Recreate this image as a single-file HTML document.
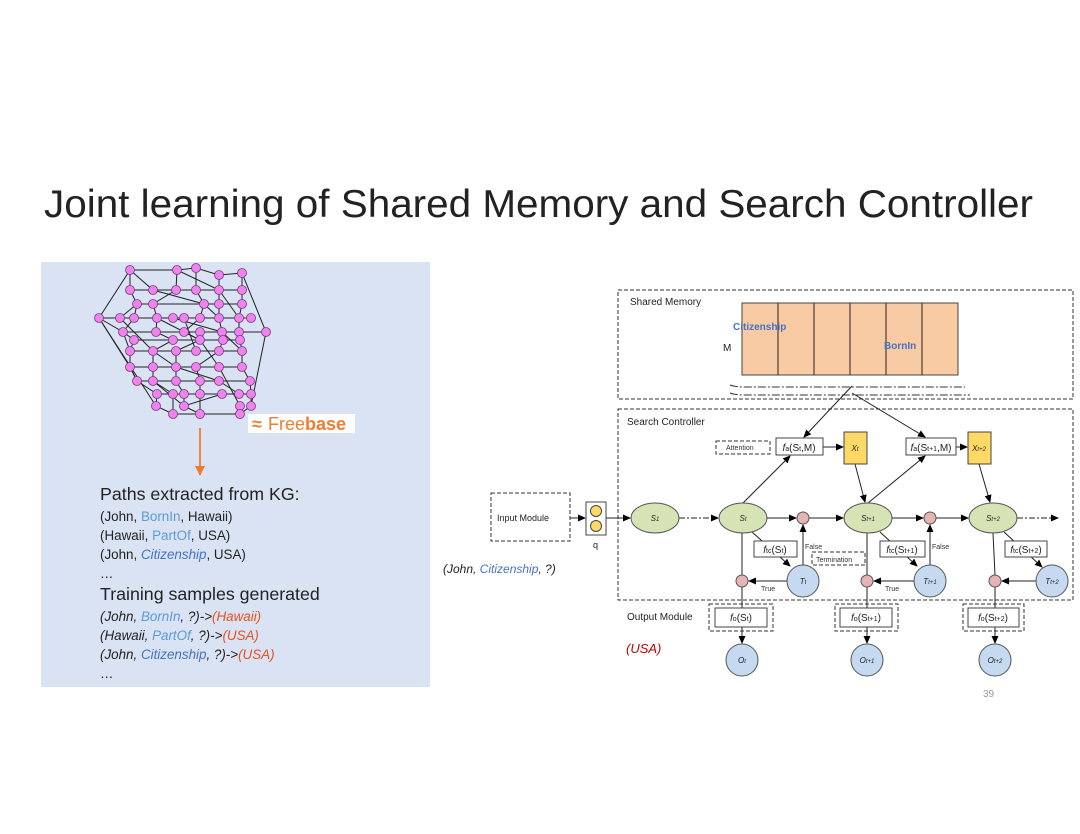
<!DOCTYPE html>
<html><head><meta charset="utf-8"><style>
html,body{margin:0;padding:0;background:#fff}
svg{display:block}
text{font-family:"Liberation Sans",sans-serif}
</style></head><body>
<svg width="1080" height="834" viewBox="0 0 1080 834" xmlns="http://www.w3.org/2000/svg">
<defs>
<marker id="ah" markerWidth="8" markerHeight="8" refX="7" refY="4" orient="auto" markerUnits="userSpaceOnUse"><path d="M0,0.5 L8,4 L0,7.5z" fill="#000"/></marker>
<marker id="ao" markerWidth="10" markerHeight="10" refX="9" refY="5" orient="auto" markerUnits="userSpaceOnUse"><path d="M0,0 L10,5 L0,10z" fill="#ed7d31"/></marker>
</defs>
<text x="44" y="217" font-size="39" fill="#222" textLength="989" lengthAdjust="spacingAndGlyphs">Joint learning of Shared Memory and Search Controller</text>

<!-- left panel -->
<rect x="41" y="262" width="389" height="425" fill="#dae3f3"/>
<g stroke="#222" stroke-width="1" fill="none">
<polygon points="130,270 177,270 196,268 219,275 242,273 266,332 251,406 240,414 200,414 173,414 156,406 99,318"/>
<polyline points="130,290 153,290 176,290 196,290 219,290 242,290"/>
<polyline points="137,304 153,304 204,304 219,304 242,304"/>
<polyline points="99,318 120,318 134,318 157,318 173,318 184,318 200,318 219,318 239,318 251,318"/>
<polyline points="123,332 156,332 184,332 200,332 222,332 239,332 266,332"/>
<polyline points="134,340 173,340 200,340 223,340 240,340"/>
<polyline points="130,351 153,351 176,351 196,351 219,351 242,351"/>
<polyline points="130,367 153,367 176,367 196,367 219,367 242,367"/>
<polyline points="137,381 153,381 176,381 200,381 219,381 250,381"/>
<polyline points="157,394 173,394 184,394 200,394 222,394 239,394 251,394"/>
<polyline points="130,270 130,290 137,304 134,318 123,332 134,340 130,351 130,367 137,381 157,394 156,406"/>
<polyline points="177,270 176,290 153,304 157,318 156,332 173,340 153,351 153,367 153,381 173,394 173,414"/>
<polyline points="196,268 196,290 204,304 200,318 184,332 200,340 176,351 176,367 176,381 184,394 184,406 200,414"/>
<polyline points="219,275 219,290 219,304 219,318 222,332 223,340 219,351 196,367 200,381 200,394 200,414"/>
<polyline points="242,273 242,290 242,304 239,318 239,332 240,340 242,351 242,367 250,381 251,394 251,406"/>
<polyline points="99,318 123,332 130,351"/>
<polyline points="99,318 130,367 137,381"/>
<polyline points="130,270 153,290 204,304 219,318"/>
<polyline points="177,270 219,290 239,318"/>
<polyline points="120,318 153,351 176,367 219,381 239,394"/>
<polyline points="157,318 200,340 219,367 240,406"/>
<polyline points="173,318 222,332 242,351"/>
<polyline points="184,318 196,351"/>
<polyline points="137,304 120,318"/>
<polyline points="153,381 184,406 222,394"/>
</g>
<g fill="#ee82ee" stroke="#7a3a7a" stroke-width="0.8">
<circle cx="130" cy="270" r="4.5"/><circle cx="177" cy="270" r="4.5"/><circle cx="196" cy="268" r="4.5"/><circle cx="219" cy="275" r="4.5"/><circle cx="242" cy="273" r="4.5"/>
<circle cx="130" cy="290" r="4.5"/><circle cx="153" cy="290" r="4.5"/><circle cx="176" cy="290" r="4.5"/><circle cx="196" cy="290" r="4.5"/><circle cx="219" cy="290" r="4.5"/><circle cx="242" cy="290" r="4.5"/>
<circle cx="137" cy="304" r="4.5"/><circle cx="153" cy="304" r="4.5"/><circle cx="204" cy="304" r="4.5"/><circle cx="219" cy="304" r="4.5"/><circle cx="242" cy="304" r="4.5"/>
<circle cx="99" cy="318" r="4.5"/><circle cx="120" cy="318" r="4.5"/><circle cx="134" cy="318" r="4.5"/><circle cx="157" cy="318" r="4.5"/><circle cx="173" cy="318" r="4.5"/><circle cx="184" cy="318" r="4.5"/><circle cx="200" cy="318" r="4.5"/><circle cx="219" cy="318" r="4.5"/><circle cx="239" cy="318" r="4.5"/><circle cx="251" cy="318" r="4.5"/>
<circle cx="123" cy="332" r="4.5"/><circle cx="156" cy="332" r="4.5"/><circle cx="184" cy="332" r="4.5"/><circle cx="200" cy="332" r="4.5"/><circle cx="222" cy="332" r="4.5"/><circle cx="239" cy="332" r="4.5"/><circle cx="266" cy="332" r="4.5"/>
<circle cx="134" cy="340" r="4.5"/><circle cx="173" cy="340" r="4.5"/><circle cx="200" cy="340" r="4.5"/><circle cx="223" cy="340" r="4.5"/><circle cx="240" cy="340" r="4.5"/>
<circle cx="130" cy="351" r="4.5"/><circle cx="153" cy="351" r="4.5"/><circle cx="176" cy="351" r="4.5"/><circle cx="196" cy="351" r="4.5"/><circle cx="219" cy="351" r="4.5"/><circle cx="242" cy="351" r="4.5"/>
<circle cx="130" cy="367" r="4.5"/><circle cx="153" cy="367" r="4.5"/><circle cx="176" cy="367" r="4.5"/><circle cx="196" cy="367" r="4.5"/><circle cx="219" cy="367" r="4.5"/><circle cx="242" cy="367" r="4.5"/>
<circle cx="137" cy="381" r="4.5"/><circle cx="153" cy="381" r="4.5"/><circle cx="176" cy="381" r="4.5"/><circle cx="200" cy="381" r="4.5"/><circle cx="219" cy="381" r="4.5"/><circle cx="250" cy="381" r="4.5"/>
<circle cx="157" cy="394" r="4.5"/><circle cx="173" cy="394" r="4.5"/><circle cx="184" cy="394" r="4.5"/><circle cx="200" cy="394" r="4.5"/><circle cx="222" cy="394" r="4.5"/><circle cx="239" cy="394" r="4.5"/><circle cx="251" cy="394" r="4.5"/>
<circle cx="156" cy="406" r="4.5"/><circle cx="184" cy="406" r="4.5"/><circle cx="240" cy="406" r="4.5"/><circle cx="251" cy="406" r="4.5"/>
<circle cx="173" cy="414" r="4.5"/><circle cx="200" cy="414" r="4.5"/><circle cx="240" cy="414" r="4.5"/>
</g>
<rect x="248" y="414" width="107" height="19" fill="#fff"/>
<text x="252" y="430" font-size="18" fill="#ed7d31" font-weight="bold">≈</text>
<text x="268" y="430" font-size="18" fill="#ed7d31">Free<tspan font-weight="bold">base</tspan></text>
<line x1="200" y1="428" x2="200" y2="475" stroke="#ed7d31" stroke-width="1.8" marker-end="url(#ao)"/>
<g font-size="13.4" fill="#222">
<text x="100" y="500" font-size="17.8">Paths extracted from KG:</text>
<text x="100" y="521">(John, <tspan fill="#5b9bd5">BornIn</tspan>, Hawaii)</text>
<text x="100" y="540">(Hawaii, <tspan fill="#5b9bd5">PartOf</tspan>, USA)</text>
<text x="100" y="559">(John, <tspan fill="#4472c4" font-style="italic">Citizenship</tspan>, USA)</text>
<text x="100" y="578">…</text>
<text x="100" y="600" font-size="17.8">Training samples generated</text>
<g font-style="italic">
<text x="100" y="621">(John, <tspan fill="#5b9bd5">BornIn</tspan>, ?)-&gt;<tspan fill="#e8501f">(Hawaii)</tspan></text>
<text x="100" y="640">(Hawaii, <tspan fill="#5b9bd5">PartOf</tspan>, ?)-&gt;<tspan fill="#e8501f">(USA)</tspan></text>
<text x="100" y="659">(John, <tspan fill="#4472c4">Citizenship</tspan>, ?)-&gt;<tspan fill="#e8501f">(USA)</tspan></text>
</g>
<text x="100" y="678">…</text>
</g>

<!-- right diagram -->
<g fill="none" stroke="#333" stroke-width="1" stroke-dasharray="4,2">
<rect x="618" y="290" width="455" height="109"/>
<rect x="618" y="409" width="455" height="191"/>
<rect x="716" y="441" width="54" height="13"/>
<rect x="812" y="552" width="53" height="13"/>
<rect x="709" y="604" width="64" height="27"/>
<rect x="835" y="604" width="63" height="27"/>
<rect x="963" y="604" width="61" height="27"/>
<rect x="491" y="493" width="79" height="48"/>
</g>
<g fill="none" stroke="#333" stroke-width="1" stroke-dasharray="8,2,2,2">
<path d="M730,385 Q735,387 745,387 L965,387"/>
<path d="M730,393 Q735,395 745,395 L970,395"/>
</g>
<rect x="742" y="303" width="216" height="72" fill="#f8cba5" stroke="#444"/>
<g stroke="#222"><line x1="778" y1="303" x2="778" y2="375"/><line x1="814" y1="303" x2="814" y2="375"/><line x1="850" y1="303" x2="850" y2="375"/><line x1="886" y1="303" x2="886" y2="375"/><line x1="922" y1="303" x2="922" y2="375"/></g>
<text x="630" y="305" font-size="10" fill="#222">Shared Memory</text>
<text x="627" y="425" font-size="10" fill="#222">Search Controller</text>
<text x="733" y="330" font-size="10" fill="#4472c4" font-weight="bold">Citizenship</text>
<text x="884" y="349" font-size="10" fill="#4472c4" font-weight="bold">BornIn</text>
<text x="723" y="351" font-size="10" fill="#222">M</text>

<g stroke="#222" stroke-width="1" fill="none" marker-end="url(#ah)">
<line x1="852" y1="386" x2="804" y2="437"/>
<line x1="852" y1="393" x2="925" y2="437"/>
<line x1="743" y1="503" x2="790" y2="456"/>
<line x1="868" y1="503" x2="925" y2="456"/>
<line x1="823" y1="447" x2="843" y2="447"/>
<line x1="956" y1="447" x2="967" y2="447"/>
<line x1="855" y1="464" x2="865" y2="502"/>
<line x1="979" y1="464" x2="990" y2="502"/>
<line x1="570" y1="518" x2="585" y2="518"/>
<line x1="606" y1="518" x2="630" y2="518"/>
<line x1="679" y1="518" x2="718" y2="518" stroke-dasharray="6,2,2,2"/>
<line x1="767" y1="518" x2="796" y2="518"/>
<line x1="809" y1="518" x2="843" y2="518"/>
<line x1="892" y1="518" x2="923" y2="518"/>
<line x1="936" y1="518" x2="968" y2="518"/>
<line x1="1017" y1="518" x2="1058" y2="518" stroke-dasharray="6,2,2,2"/>
<line x1="752" y1="532" x2="790" y2="566"/>
<line x1="880" y1="532" x2="917" y2="566"/>
<line x1="1004" y1="532" x2="1042" y2="567"/>
<line x1="803" y1="565" x2="803" y2="525"/>
<line x1="930" y1="565" x2="930" y2="525"/>
<line x1="787" y1="581" x2="749" y2="581"/>
<line x1="914" y1="581" x2="874" y2="581"/>
<line x1="1036" y1="581" x2="1002" y2="581"/>
<line x1="742" y1="587" x2="742" y2="643"/>
<line x1="867" y1="587" x2="867" y2="643"/>
<line x1="995" y1="587" x2="995" y2="643"/>
</g>
<g stroke="#222" fill="none"><line x1="742" y1="533" x2="742" y2="575"/><line x1="867" y1="533" x2="867" y2="575"/><line x1="993" y1="533" x2="995" y2="575"/></g>
<g fill="#fff" stroke="#444">
<rect x="776" y="438" width="47" height="17"/><rect x="906" y="438" width="50" height="17"/>
<rect x="754" y="541" width="43" height="16"/><rect x="880" y="541" width="45" height="16"/><rect x="1005" y="541" width="42" height="16"/>
<rect x="715" y="608" width="52" height="19"/><rect x="840" y="608" width="52" height="19"/><rect x="968" y="608" width="51" height="19"/>
<rect x="586" y="502" width="20" height="33"/>
</g>
<g fill="#ffd966" stroke="#444"><rect x="844" y="432" width="23" height="32"/><rect x="968" y="432" width="23" height="32"/><circle cx="596" cy="511" r="5.5"/><circle cx="596" cy="526" r="5.5"/></g>
<g fill="#d5e3b5" stroke="#555"><ellipse cx="655" cy="518" rx="24" ry="15"/><ellipse cx="743" cy="518" rx="24" ry="15"/><ellipse cx="868" cy="518" rx="24" ry="15"/><ellipse cx="993" cy="518" rx="24" ry="15"/></g>
<g fill="#e6b4b4" stroke="#555"><circle cx="803" cy="518" r="6"/><circle cx="930" cy="518" r="6"/><circle cx="742" cy="581" r="6"/><circle cx="867" cy="581" r="6"/><circle cx="995" cy="581" r="6"/></g>
<g fill="#c5d9f1" stroke="#555"><circle cx="803" cy="581" r="16"/><circle cx="930" cy="581" r="16"/><circle cx="1052" cy="581" r="16"/><circle cx="742" cy="660" r="16"/><circle cx="867" cy="660" r="16"/><circle cx="995" cy="660" r="16"/></g>
<g font-size="8" fill="#222" font-family="Liberation Serif" font-style="italic" text-anchor="middle">
<text x="655" y="521">S<tspan font-size="6">1</tspan></text><text x="743" y="521">S<tspan font-size="6">t</tspan></text><text x="868" y="521">S<tspan font-size="6">t+1</tspan></text><text x="993" y="521">S<tspan font-size="6">t+2</tspan></text>
<text x="803" y="584">T<tspan font-size="6">t</tspan></text><text x="930" y="584">T<tspan font-size="6">t+1</tspan></text><text x="1052" y="584">T<tspan font-size="6">t+2</tspan></text>
<text x="742" y="663">O<tspan font-size="6">t</tspan></text><text x="867" y="663">O<tspan font-size="6">t+1</tspan></text><text x="995" y="663">O<tspan font-size="6">t+2</tspan></text>
<text x="855" y="451">X<tspan font-size="6">t</tspan></text><text x="979" y="451">X<tspan font-size="6">t+2</tspan></text>
</g>
<g font-size="10" fill="#222" text-anchor="middle">
<text x="799" y="451"><tspan font-style="italic">f</tspan><tspan font-size="7">a</tspan>(S<tspan font-size="7">t</tspan>,M)</text>
<text x="931" y="451"><tspan font-style="italic">f</tspan><tspan font-size="7">a</tspan>(S<tspan font-size="7">t+1</tspan>,M)</text>
<text x="775" y="553"><tspan font-style="italic">f</tspan><tspan font-size="7">tc</tspan>(S<tspan font-size="7">t</tspan>)</text>
<text x="902" y="553"><tspan font-style="italic">f</tspan><tspan font-size="7">tc</tspan>(S<tspan font-size="7">t+1</tspan>)</text>
<text x="1026" y="553"><tspan font-style="italic">f</tspan><tspan font-size="7">tc</tspan>(S<tspan font-size="7">t+2</tspan>)</text>
<text x="741" y="621"><tspan font-style="italic">f</tspan><tspan font-size="7">o</tspan>(S<tspan font-size="7">t</tspan>)</text>
<text x="866" y="621"><tspan font-style="italic">f</tspan><tspan font-size="7">o</tspan>(S<tspan font-size="7">t+1</tspan>)</text>
<text x="993" y="621"><tspan font-style="italic">f</tspan><tspan font-size="7">o</tspan>(S<tspan font-size="7">t+2</tspan>)</text>
</g>
<g font-size="7" fill="#333">
<text x="726" y="450">Attention</text><text x="816" y="562">Termination</text>
<text x="805" y="549">False</text><text x="932" y="549">False</text>
<text x="761" y="591">True</text><text x="885" y="591">True</text>
</g>
<text x="497" y="521" font-size="9" fill="#222">Input Module</text>
<text x="593" y="548" font-size="9" fill="#222">q</text>
<text x="627" y="620" font-size="10" fill="#222">Output Module</text>
<text x="443" y="573" font-size="12" fill="#222" font-style="italic">(John, <tspan fill="#4472c4">Citizenship</tspan>,  ?)</text>
<text x="626" y="653" font-size="13" fill="#c00000" font-style="italic">(USA)</text>
<text x="983" y="697" font-size="10" fill="#999">39</text>
</svg>
</body></html>
